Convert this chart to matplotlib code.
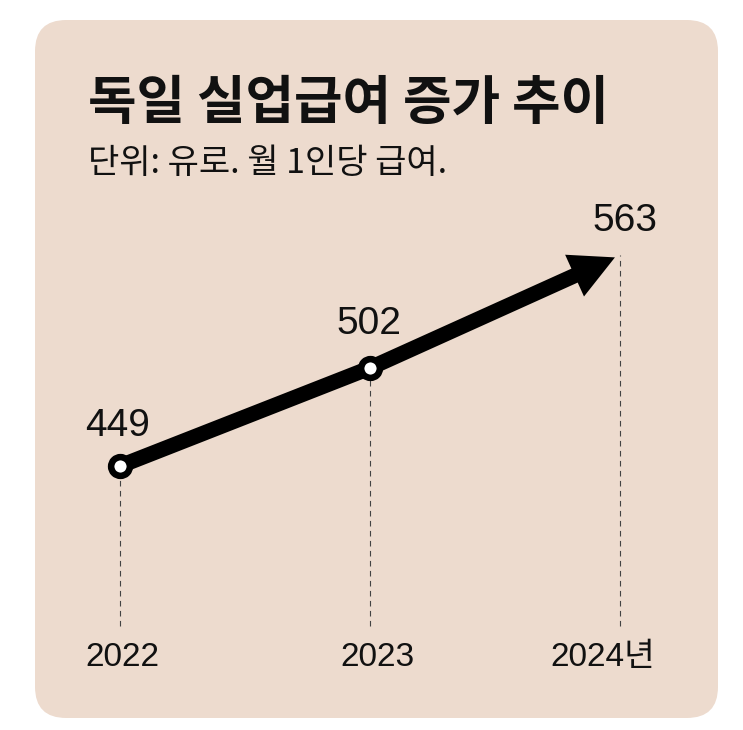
import matplotlib
matplotlib.use("Agg")
import matplotlib.pyplot as plt
from matplotlib.patches import FancyBboxPatch, FancyArrowPatch

years = [2022, 2023, 2024]
values = [449, 502, 563]
year_labels = ["2022", "2023", "2024년"]
title = "독일 실업급여 증가 추이"
subtitle = "단위: 유로. 월 1인당 급여."

W, H, DPI = 743, 730, 100
fig = plt.figure(figsize=(W / DPI, H / DPI), dpi=DPI)
fig.patch.set_facecolor("white")

card_color = "#EDDBCE"
x0, y0, x1, y1 = 35, 20, 718, 718
card = FancyBboxPatch((x0 / W, 1 - y1 / H), (x1 - x0) / W, (y1 - y0) / H,
                      boxstyle="round,pad=0,rounding_size=0.042",
                      transform=fig.transFigure, facecolor=card_color,
                      edgecolor="none", mutation_aspect=W / H, zorder=-10)
fig.patches.append(card)

kfont = ["Noto Sans CJK KR", "DejaVu Sans"]
nfont = ["Liberation Sans", "Noto Sans CJK KR", "DejaVu Sans"]

fig.text(88 / W, 1 - 103 / H, title, fontsize=38, fontweight="bold",
         family=kfont, va="center", ha="left", color="#111111")
fig.text(88 / W, 1 - 164 / H, subtitle, fontsize=24.5,
         family=kfont, va="center", ha="left", color="#111111")

ax = fig.add_axes([0, 0, 1, 1])
ax.set_facecolor("none")
ax.set_zorder(1)
ax.set_xlim(2022 - 120 / 250, 2022 + (W - 120) / 250)
ax.set_ylim(449 - (H - 466) / 1.85, 449 + 466 / 1.85)
ax.axis("off")

ybottom = 449 - (626 - 466) / 1.85
for yr, v in zip(years, values):
    ax.plot([yr, yr], [ybottom, v], color="#444444", lw=0.8,
            dashes=(5, 4), zorder=1)

ax.plot(years[:2], values[:2], color="black", lw=11, solid_capstyle="butt",
        zorder=3)
arrow = FancyArrowPatch((years[1], values[1]), (years[2], values[2]),
                        arrowstyle="simple,head_length=2.9,head_width=3.0,tail_width=1.0",
                        mutation_scale=11, color="black", lw=0,
                        shrinkA=0, shrinkB=-4, zorder=3)
ax.add_patch(arrow)

ax.plot(years[:2], values[:2], "o", ms=13.5, mfc="white", mec="black",
        mew=4.7, zorder=5)

offsets = [(-2, 40), (-1, 44), (5, 34)]
for yr, v, off in zip(years, values, offsets):
    ax.annotate(str(v), (yr, v), xytext=off, textcoords="offset pixels",
                ha="center", va="center", fontsize=28, family=nfont,
                color="#111111", zorder=6)

lab_off = [2, 7, -17]
for yr, lab, o in zip(years, year_labels, lab_off):
    ax.annotate(lab, (yr, ybottom), xytext=(o, -32), textcoords="offset pixels",
                ha="center", va="center", fontsize=24, family=nfont,
                color="#111111")

fig.savefig("out.png", dpi=DPI, facecolor="white")
